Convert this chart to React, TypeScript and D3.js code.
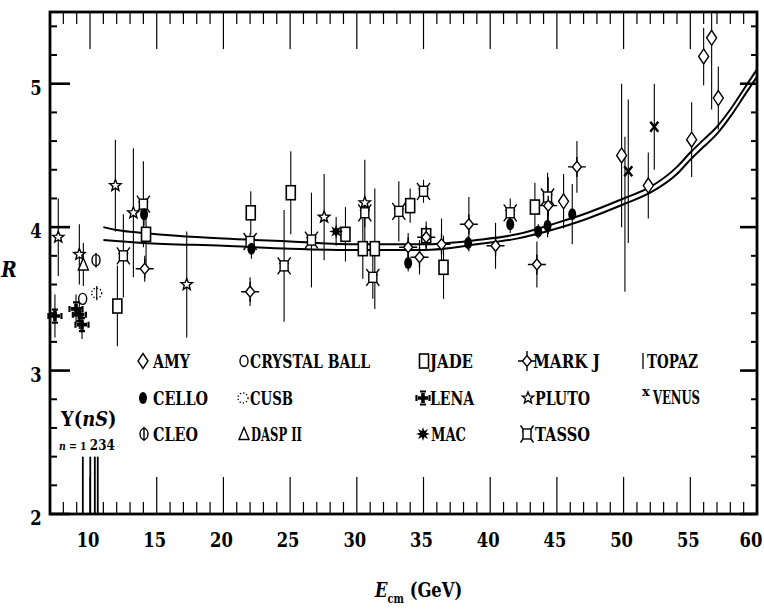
import React from 'react';
import * as d3 from 'd3';

const W = 764;
const H = 609;

const X_DOMAIN: [number, number] = [7, 60];
const Y_DOMAIN: [number, number] = [2, 5.5];
const X_TICK_LABELS = [10, 15, 20, 25, 30, 35, 40, 45, 50, 55, 60];
const Y_TICK_LABELS = [2, 3, 4, 5];

// Measurements: [E_cm (GeV), R, error]
const AMY = [[45.5, 4.18, 0.19], [49.85, 4.5, 0.5], [51.85, 4.29, 0.23], [55.1, 4.61, 0.26], [56.0, 5.19, 0.2], [56.6, 5.32, 0.5], [57.1, 4.9, 0.22]];
const CRYSTAL_BALL = [[9.45, 3.5, 0.03]];
const JADE = [[12.05, 3.45, 0.28], [14.2, 3.95, 0.25], [22.05, 4.1, 0.15], [25.05, 4.24, 0.29], [29.15, 3.95, 0.19], [30.45, 3.85, 0.21], [31.35, 3.85, 0.42], [34.0, 4.15, 0.12], [35.2, 3.94, 0.1], [36.5, 3.72, 0.22], [43.35, 4.14, 0.17]];
const MARK_J = [[14.1, 3.71, 0.09], [22.0, 3.55, 0.1], [33.85, 3.86, 0.1], [34.7, 3.79, 0.12], [35.2, 3.93, 0.08], [36.35, 3.88, 0.18], [38.4, 4.02, 0.19], [40.4, 3.87, 0.16], [43.5, 3.74, 0.16], [44.35, 4.15, 0.2], [46.5, 4.42, 0.18]];
const TOPAZ = [[50.1, 4.09, 0.54]];
const CELLO = [[14.05, 4.09, 0.08], [22.1, 3.85, 0.07], [33.85, 3.75, 0.06], [38.35, 3.89, 0.05], [41.5, 4.02, 0.06], [43.6, 3.97, 0.05], [44.3, 4.01, 0.08], [46.15, 4.09, 0.21]];
const CUSB = [[10.5, 3.54, 0.05]];
const LENA = [[7.37, 3.38, 0.15], [8.95, 3.43, 0.1], [9.2, 3.39, 0.1], [9.4, 3.32, 0.1]];
const PLUTO = [[7.62, 3.93, 0.27], [9.2, 3.81, 0.21], [11.9, 4.29, 0.32], [13.25, 4.1, 0.45], [17.25, 3.6, 0.37], [27.55, 4.07, 0.3], [30.6, 4.17, 0.3]];
const VENUS = [[50.35, 4.39, 0.5], [52.3, 4.7, 0.3]];
const CLEO = [[10.45, 3.77, 0.05]];
const DASP_II = [[9.5, 3.74, 0.15]];
const MAC = [[28.45, 3.97, 0.1]];
const TASSO = [[12.5, 3.8, 0.29], [14.0, 4.16, 0.3], [22.0, 3.9, 0.06], [24.55, 3.73, 0.39], [26.6, 3.91, 0.33], [30.6, 4.1, 0.1], [31.2, 3.65, 0.15], [33.15, 4.11, 0.21], [35.0, 4.25, 0.08], [41.5, 4.1, 0.1], [44.3, 4.21, 0.17]];

// QCD + electroweak predictions (two values of the input parameters)
const FIT_UPPER = [[11, 4.0], [12, 3.98], [14, 3.96], [16.5, 3.94], [20, 3.92], [25, 3.9], [30, 3.88], [35, 3.88], [39, 3.91], [42, 3.95], [45, 4.03], [47, 4.09], [50, 4.2], [52, 4.28], [54, 4.42], [55, 4.52], [56, 4.61], [57, 4.7], [58, 4.82], [59, 4.96], [60, 5.1]];
const FIT_LOWER = [[11, 3.91], [14, 3.89], [20, 3.87], [25, 3.85], [30, 3.84], [35, 3.84], [39, 3.88], [42, 3.92], [45, 3.99], [47, 4.05], [50, 4.16], [52, 4.24], [54, 4.37], [55, 4.47], [56, 4.56], [57, 4.65], [58, 4.77], [59, 4.91], [60, 5.05]];

// Upsilon resonance masses, n = 1..4
const UPSILON = [9.46, 10.02, 10.36, 10.58];

const FONT = "'DejaVu Serif', 'Liberation Serif', serif";

const M = { left: 50, right: 757, top: 12, bottom: 514 };

const x = d3.scaleLinear().domain(X_DOMAIN).range([M.left, M.right]);
const y = d3.scaleLinear().domain(Y_DOMAIN).range([M.bottom, M.top]);

type Kind = 'amy' | 'cb' | 'jade' | 'markj' | 'topaz' | 'cello' | 'cusb' | 'lena' | 'pluto' | 'venus' | 'cleo' | 'dasp' | 'mac' | 'tasso';

function starPath(n: number, ro: number, ri: number) {
  const pts: string[] = [];
  for (let i = 0; i < n * 2; i++) {
    const r = i % 2 === 0 ? ro : ri;
    const a = -Math.PI / 2 + (i * Math.PI) / n;
    pts.push(`${(r * Math.cos(a)).toFixed(2)},${(r * Math.sin(a)).toFixed(2)}`);
  }
  return 'M' + pts.join('L') + 'Z';
}

function Marker({ kind, cx, cy }: { kind: Kind; cx: number; cy: number }) {
  const t = `translate(${cx},${cy})`;
  const s = { stroke: '#000', strokeWidth: 1.4 };
  switch (kind) {
    case 'amy':
      return <path transform={t} d="M0,-7.5L5,0L0,7.5L-5,0Z" fill="#fff" {...s} />;
    case 'cb':
      return <ellipse transform={t} rx={4} ry={5.5} fill="#fff" {...s} />;
    case 'jade':
      return <rect transform={t} x={-4.5} y={-7} width={9} height={14} fill="#fff" {...s} strokeWidth={1.6} />;
    case 'markj':
      return (
        <g transform={t} {...s}>
          <path d="M-9,0H-4.5M4.5,0H9M0,-10V-5.5M0,5.5V10" fill="none" />
          <path d="M0,-5.5L4.5,0L0,5.5L-4.5,0Z" fill="#fff" />
        </g>
      );
    case 'topaz':
      return null;
    case 'cello':
      return <ellipse transform={t} rx={4} ry={6} fill="#000" />;
    case 'cusb':
      return <circle transform={t} r={5} fill="none" stroke="#000" strokeWidth={1.3} strokeDasharray="1.3 2" />;
    case 'lena':
      return (
        <g transform={t} fill="#000">
          <path d="M-1.8,-5H1.8V-1.8H5V1.8H1.8V5H-1.8V1.8H-5V-1.8H-1.8Z" />
          <path d="M-3,-6.5H3M-3,6.5H3M-6.5,-3V3M6.5,-3V3" stroke="#000" strokeWidth={2.2} />
        </g>
      );
    case 'pluto':
      return <path transform={t} d={starPath(5, 6, 2.6)} fill="#fff" {...s} />;
    case 'venus':
      return <path transform={t} d="M-4,-5L4,5M4,-5L-4,5" stroke="#000" strokeWidth={2.4} fill="none" />;
    case 'cleo':
      return (
        <g transform={t} {...s}>
          <ellipse rx={4} ry={5.5} fill="#fff" />
          <path d="M0,-7V7" fill="none" />
        </g>
      );
    case 'dasp':
      return <path transform={t} d="M0,-6.5L5,5.5L-5,5.5Z" fill="#fff" {...s} />;
    case 'mac':
      return <path transform={t} d={starPath(8, 7, 3.2)} fill="#000" />;
    case 'tasso':
      return (
        <g transform={t} {...s}>
          <path d="M-4,-5L-6.5,-8.5M4,-5L6.5,-8.5M-4,5L-6.5,8.5M4,5L6.5,8.5M-5,-2.5H5" fill="none" />
          <rect x={-4} y={-5} width={8} height={10} fill="#fff" />
        </g>
      );
  }
  return null;
}

const SERIES: { kind: Kind; data: number[][] }[] = [
  { kind: 'topaz', data: TOPAZ },
  { kind: 'lena', data: LENA },
  { kind: 'pluto', data: PLUTO },
  { kind: 'dasp', data: DASP_II },
  { kind: 'cleo', data: CLEO },
  { kind: 'cusb', data: CUSB },
  { kind: 'cb', data: CRYSTAL_BALL },
  { kind: 'jade', data: JADE },
  { kind: 'tasso', data: TASSO },
  { kind: 'markj', data: MARK_J },
  { kind: 'mac', data: MAC },
  { kind: 'cello', data: CELLO },
  { kind: 'amy', data: AMY },
  { kind: 'venus', data: VENUS },
];

const LEGEND: { kind: Kind; label: string; sx: number; tx: number; by: number; w: number }[] = [
  { kind: 'amy', label: 'AMY', sx: 143, tx: 153, by: 368, w: 37 },
  { kind: 'cello', label: 'CELLO', sx: 143, tx: 153, by: 405, w: 55 },
  { kind: 'cleo', label: 'CLEO', sx: 144, tx: 153, by: 441, w: 45 },
  { kind: 'cb', label: 'CRYSTAL BALL', sx: 244, tx: 250, by: 368, w: 120 },
  { kind: 'cusb', label: 'CUSB', sx: 243, tx: 250, by: 405, w: 43 },
  { kind: 'dasp', label: 'DASP II', sx: 244, tx: 251, by: 441, w: 51 },
  { kind: 'jade', label: 'JADE', sx: 424, tx: 430, by: 368, w: 43 },
  { kind: 'lena', label: 'LENA', sx: 423, tx: 430, by: 405, w: 44 },
  { kind: 'mac', label: 'MAC', sx: 423, tx: 431, by: 441, w: 35 },
  { kind: 'markj', label: 'MARK J', sx: 527, tx: 533, by: 368, w: 67 },
  { kind: 'pluto', label: 'PLUTO', sx: 528, tx: 535, by: 405, w: 55 },
  { kind: 'tasso', label: 'TASSO', sx: 527, tx: 535, by: 441, w: 55 },
];

// narrow bold serif, as used for all labels
function Label({ x: tx, y: ty, size, sx = 0.78, anchor = 'start', italic = false, children }: any) {
  return (
    <text
      transform={`translate(${tx},${ty}) scale(${sx},1)`}
      textAnchor={anchor}
      fontSize={size}
      fontFamily={FONT}
      fontWeight={700}
      fontStyle={italic ? 'italic' : 'normal'}
    >
      {children}
    </text>
  );
}

export default function App() {
  const line = d3
    .line<number[]>()
    .x((d) => x(d[0]))
    .y((d) => y(d[1]))
    .curve(d3.curveMonotoneX);

  const xMinor = d3.range(8, 60, 1);
  const yMinor = d3.range(2.2, 5.5, 0.2).filter((v) => Math.abs(v - Math.round(v)) > 0.01);

  const bars: JSX.Element[] = [];
  const marks: JSX.Element[] = [];
  SERIES.forEach((s) =>
    s.data.forEach((d, i) => {
      const top = Math.max(y(d[1] + d[2]), M.top);
      bars.push(
        <line key={`${s.kind}-b-${i}`} x1={x(d[0])} x2={x(d[0])} y1={top} y2={y(d[1] - d[2])} stroke="#000" strokeWidth={1.1} />
      );
      marks.push(<Marker key={`${s.kind}-m-${i}`} kind={s.kind} cx={x(d[0])} cy={y(d[1])} />);
    })
  );

  const txt = { fontFamily: FONT, fontWeight: 700 };

  return (
    <svg width={W} height={H} style={{ position: 'absolute', left: 0, top: 0, background: '#fff' }}>
      <rect width={W} height={H} fill="#fff" />

      {/* ticks: bottom & top */}
      {xMinor.map((v) => {
        const major = v % 5 === 0;
        const len = major ? 37 : 12;
        return (
          <g key={`xt${v}`} stroke="#000" strokeWidth={1.2}>
            <line x1={x(v)} x2={x(v)} y1={M.bottom} y2={M.bottom - len} />
            <line x1={x(v)} x2={x(v)} y1={M.top} y2={M.top + len} />
          </g>
        );
      })}
      {/* ticks: left & right */}
      {yMinor.map((v) => (
        <g key={`ym${v.toFixed(1)}`} stroke="#000" strokeWidth={2}>
          <line x1={M.left} x2={M.left + 7} y1={y(v)} y2={y(v)} />
          <line x1={M.right} x2={M.right - 6} y1={y(v)} y2={y(v)} />
        </g>
      ))}
      {Y_TICK_LABELS.map((v, i) => (
        <g key={`yM${i}`} stroke="#000" strokeWidth={2.6}>
          <line x1={M.left} x2={M.left + 20} y1={y(v)} y2={y(v)} />
          <line x1={M.right} x2={M.right - 17} y1={y(v)} y2={y(v)} />
        </g>
      ))}

      {/* frame */}
      <rect x={M.left} y={M.top} width={M.right - M.left} height={M.bottom - M.top} fill="none" stroke="#000" strokeWidth={2.8} />

      {/* tick labels */}
      {X_TICK_LABELS.map((v) => (
        <Label key={`xl${v}`} x={v === 60 ? x(v) - 6 : x(v) - 2} y={547} size={21} anchor="middle">
          {v}
        </Label>
      ))}
      {Y_TICK_LABELS.map((v) => (
        <Label key={`yl${v}`} x={36} y={y(v) + 11} size={21} anchor="middle">
          {v}
        </Label>
      ))}

      {/* axis titles */}
      <Label x={9} y={277} size={22} anchor="middle" italic sx={0.85}>
        R
      </Label>
      <text transform="translate(375,597) scale(0.82,1)" fontSize={20} {...txt}>
        <tspan fontStyle="italic">E</tspan>
        <tspan fontSize={12} dy={6}>cm</tspan>
        <tspan dy={-6} dx={7}>(GeV)</tspan>
      </text>

      {/* Upsilon resonances */}
      {UPSILON.map((m, i) => (
        <line key={`u${i}`} x1={x(m)} x2={x(m)} y1={M.bottom} y2={y(2.4)} stroke="#000" strokeWidth={1.8} />
      ))}
      <text transform="translate(61,426) scale(0.85,1)" fontSize={21} {...txt}>
        <tspan>Υ(</tspan>
        <tspan fontStyle="italic">nS</tspan>
        <tspan>)</tspan>
      </text>
      <text transform="translate(59,450) scale(0.85,1)" fontSize={11} {...txt}>
        <tspan fontStyle="italic">n</tspan>
        <tspan> = 1 </tspan>
        <tspan fontSize={14}>234</tspan>
      </text>

      {/* predictions */}
      <path d={line(FIT_UPPER) || ''} fill="none" stroke="#000" strokeWidth={2} />
      <path d={line(FIT_LOWER) || ''} fill="none" stroke="#000" strokeWidth={2} />

      {/* measurements */}
      {bars}
      {marks}

      {/* legend */}
      {LEGEND.map((l) => (
        <g key={l.label}>
          <Marker kind={l.kind} cx={l.sx} cy={l.by - 7} />
          <text x={l.tx} y={l.by} fontSize={18} textLength={l.w} lengthAdjust="spacingAndGlyphs" {...txt}>
            {l.label}
          </text>
        </g>
      ))}
      <line x1={643} x2={643} y1={353} y2={369} stroke="#000" strokeWidth={1.3} />
      <text x={647} y={368} fontSize={18} textLength={51} lengthAdjust="spacingAndGlyphs" {...txt}>
        TOPAZ
      </text>
      <text x={642} y={396} fontSize={13} {...txt}>
        x
      </text>
      <text x={653} y={404} fontSize={18} textLength={47} lengthAdjust="spacingAndGlyphs" {...txt}>
        VENUS
      </text>
    </svg>
  );
}
